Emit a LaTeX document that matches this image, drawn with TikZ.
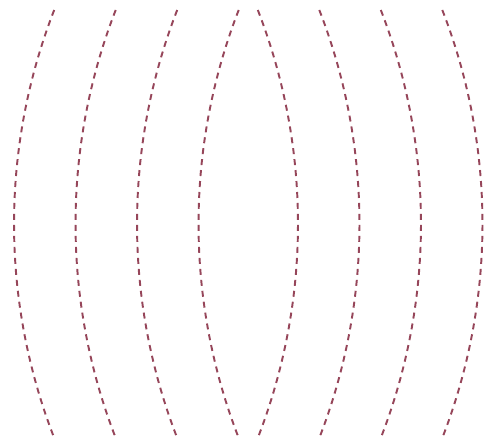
\documentclass[tikz,border=0pt]{standalone}
\usepackage{tikz}
\definecolor{cFront}{RGB}{150,70,90}
\tikzset{
	front/.style={draw=cFront, line width=1.1pt, dash pattern=on 0.12cm off 0.10cm},
}
\begin{document}
\begin{tikzpicture}[x=0.02cm, y=0.02cm]
	\useasboundingbox (0,0) rectangle (490,437);
	% left-bulging fronts
	\foreach \xl in {14,75.5,137,198.5}
		\draw[front] (\xl+40.2,427) arc[start angle=158.73, end angle=201.27, radius=11.8cm];
	% right-bulging fronts
	\foreach \xr in {298,359.5,421,482.5}
		\draw[front] (\xr-40.2,427) arc[start angle=21.27, end angle=-21.27, radius=11.8cm];
\end{tikzpicture}
\end{document}
